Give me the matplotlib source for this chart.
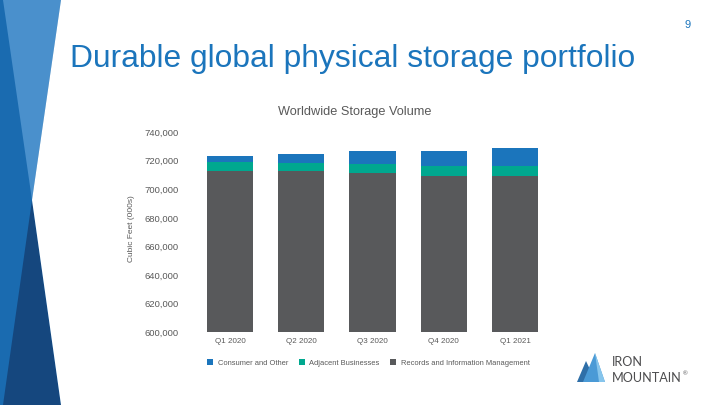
import matplotlib
matplotlib.use("Agg")
import matplotlib.pyplot as plt
from matplotlib.patches import Polygon
from matplotlib.ticker import FuncFormatter

quarters = ["Q1 2020", "Q2 2020", "Q3 2020", "Q4 2020", "Q1 2021"]
records_mgmt = [712700, 712400, 711500, 708900, 708900]
adjacent = [6000, 5600, 6300, 7000, 7000]
consumer = [4200, 6300, 9100, 10500, 13100]
series_names = ["Consumer and Other", "Adjacent Businesses", "Records and Information Management"]
y_ticks = [600000, 620000, 640000, 660000, 680000, 700000, 720000, 740000]

C_BLUE = "#1B75BC"
C_TEAL = "#00A88F"
C_GRAY = "#58595B"
TXT = "#595959"

plt.rcParams['font.family'] = ['Liberation Sans', 'DejaVu Sans']

W, H = 720, 405
fig = plt.figure(figsize=(7.2, 4.05), dpi=100)
fig.patch.set_facecolor("white")

def px(x, y):
    return (x / W, 1 - y / H)

def poly(pts, color, z=0):
    p = Polygon([px(*q) for q in pts], closed=True, transform=fig.transFigure,
                facecolor=color, edgecolor="none", zorder=z)
    fig.patches.append(p)

# left decorative band
poly([(0, 0), (62, 0), (62, 405), (0, 405)], "#1A6BB0")
poly([(3, 0), (61, 0), (32, 200)], "#4A90CC")
poly([(32, 200), (3, 405), (61, 405)], "#15477E")
poly([(61, 0), (62, 0), (62, 405), (61, 405), (32, 200)], "white")

# slide title and page number
fig.text(70 / W, 1 - 59 / H, "Durable global physical storage portfolio",
         fontsize=22.9, color=C_BLUE, ha="left", va="center")
fig.text(688 / W, 1 - 25 / H, "9", fontsize=8, color=C_BLUE, ha="center", va="center")

# chart
ax = fig.add_axes([194.4 / W, 1 - 332.3 / H, 356.2 / W, 200.3 / H])
x = range(len(quarters))
bw = 0.65
ax.bar(x, records_mgmt, bw, color=C_GRAY, label=series_names[2], zorder=2)
ax.bar(x, adjacent, bw, bottom=records_mgmt, color=C_TEAL, label=series_names[1], zorder=2)
bottom3 = [r + a for r, a in zip(records_mgmt, adjacent)]
ax.bar(x, consumer, bw, bottom=bottom3, color=C_BLUE, label=series_names[0], zorder=2)

ax.set_xlim(-0.5, len(quarters) - 0.5)
ax.set_ylim(600000, 740000)
ax.set_yticks(y_ticks)
ax.yaxis.set_major_formatter(FuncFormatter(lambda v, p: f"{int(v):,}"))
ax.set_xticks(list(x))
ax.set_xticklabels(quarters)
ax.tick_params(axis="both", length=0, labelcolor=TXT)
ax.tick_params(axis="y", pad=11, labelsize=6.8)
ax.tick_params(axis="x", pad=4, labelsize=5.8)
for s in ["top", "right", "left", "bottom"]:
    ax.spines[s].set_visible(False)

fig.text(131.5 / W, 1 - 229 / H, "Cubic Feet (000s)", fontsize=6, color=TXT,
         rotation=90, ha="center", va="center")

fig.text(355 / W, 1 - 112 / H, "Worldwide Storage Volume", fontsize=9.2, color=TXT,
         ha="center", va="center")

handles, labels = ax.get_legend_handles_labels()
order = [2, 1, 0]
leg = fig.legend([handles[i] for i in order], [labels[i] for i in order],
                 loc="center", bbox_to_anchor=px(368.5, 363), ncol=3, frameon=False,
                 fontsize=5.4, handlelength=0.8, handleheight=0.8, handletextpad=0.6,
                 columnspacing=1.4, labelcolor=TXT)

# logo
poly([(577, 382), (586, 361), (596, 382)], "#2F6FA8", 3)
poly([(583, 382), (595, 353), (605, 382)], "#4A9AD6", 3)
poly([(595, 353), (605, 382), (599, 382)], "#86C5EC", 3)
fig.text(612 / W, 1 - 361.5 / H, "IRON", fontsize=9.1, color="#4D4D4F",
         ha="left", va="center", family=["Lato", "DejaVu Sans"])
fig.text(612 / W, 1 - 378 / H, "MOUNTAIN", fontsize=9.1, color="#4D4D4F",
         ha="left", va="center", family=["Lato", "DejaVu Sans"])
fig.text(682.5 / W, 1 - 373.5 / H, "®", fontsize=4.5, color="#4D4D4F", ha="left", va="center")

fig.savefig("out.png", dpi=100)
